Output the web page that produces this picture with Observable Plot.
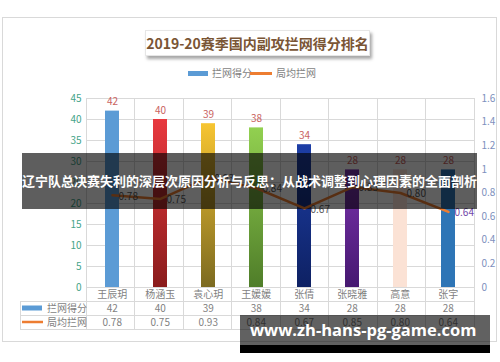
<!DOCTYPE html>
<html>
<head>
<meta charset="utf-8">
<script src="https://cdn.jsdelivr.net/npm/d3@7"></script>
<script src="https://cdn.jsdelivr.net/npm/@observablehq/plot@0.6"></script>
<style>
  html, body { margin: 0; padding: 0; background: #fff; }
  #wrap { position: relative; width: 500px; height: 362px; overflow: hidden; font-family: "Noto Sans CJK SC", sans-serif; }
  #frame { position: absolute; left: 2px; top: 17px; width: 495px; height: 325px; border: 1px solid #d9d9d9; box-sizing: border-box; }
  #chart { position: absolute; left: 0; top: 0; }
  #title { position: absolute; left: 145px; top: 30px; width: 225px; height: 26px; background: #fff; box-shadow: 2px 3px 3px rgba(0,0,0,0.35); border: 1px solid #e6e6e6; box-sizing: border-box; color: #7a5535; font-weight: bold; font-size: 14px; line-height: 24px; text-align: center; white-space: nowrap; }
  .leg { position: absolute; font-size: 10px; color: #7f7f7f; line-height: 12px; white-space: nowrap; }
  #banner { position: absolute; left: 22px; top: 153px; width: 455px; height: 56px; background: rgba(0,0,0,0.63); color: #fff; font-weight: bold; font-size: 13px; line-height: 56px; text-align: center; white-space: nowrap; }
  #wm { position: absolute; left: 240px; top: 315px; width: 250px; height: 30px; background: rgba(0,0,0,0.62); }
  #wm2 { position: absolute; left: 240px; top: 345px; width: 250px; height: 8px; background: #000; }
  #wmt { position: absolute; left: 250px; top: 315px; height: 30px; line-height: 30px; color: #fff; font-family: "Open Sans", sans-serif; font-weight: bold; font-size: 16.5px; white-space: nowrap; }
</style>
</head>
<body>
<div id="wrap">
  <div id="frame"></div>
  <div id="chart"></div>
  <div id="title">2019-20赛季国内副攻拦网得分排名</div>
  <div class="leg" style="left:188px;top:71px;width:20px;height:5px;background:#5b9bd5"></div>
  <div class="leg" style="left:212px;top:67px">拦网得分</div>
  <div class="leg" style="left:250px;top:72px;width:22px;height:2.5px;background:#ed7d31"></div>
  <div class="leg" style="left:276px;top:67px">局均拦网</div>
  <div id="banner">辽宁队总决赛失利的深层次原因分析与反思：从战术调整到心理因素的全面剖析</div>
  <div id="wm"></div>
  <div id="wm2"></div>
  <div id="wmt">www.zh-hans-pg-game.com</div>
</div>
<script>
const names = ["王辰玥", "杨涵玉", "袁心玥", "王媛媛", "张倩", "张晓雅", "高意", "张宇"];
const blocks = [42, 40, 39, 38, 34, 28, 28, 28];
const perSet = [0.78, 0.75, 0.93, 0.84, 0.67, 0.85, 0.80, 0.64];
const barTop = ["#5b9bd5", "#e8393f", "#f7c532", "#92d050", "#1d3ea6", "#7a33ad", "#fbe2d5", "#2e75b6"];
const barBottom = ["#5b9bd5", "#8a1c1c", "#7c6a20", "#4f7d29", "#0e2163", "#461870", "#fbe2d5", "#2e75b6"];
const leftTicks = [0, 5, 10, 15, 20, 25, 30, 35, 40, 45];
const rightTicks = [0, 0.2, 0.4, 0.6, 0.8, 1, 1.2, 1.4, 1.6];
const seriesNames = ["拦网得分", "局均拦网"];
const seriesColors = ["#5b9bd5", "#ed7d31"];

const k = 45 / 1.6; // right axis max (1.6) aligned with left axis max (45)
const rows = names.map((n, i) => ({name: n, blocks: blocks[i], perSet: perSet[i], i}));

function defs() {
  const g = d3.create("svg:defs");
  barTop.forEach((c, i) => {
    const lg = g.append("linearGradient").attr("id", "g" + i).attr("x1", 0).attr("y1", 0).attr("x2", 0).attr("y2", 1);
    lg.append("stop").attr("offset", "0%").attr("stop-color", c);
    lg.append("stop").attr("offset", "100%").attr("stop-color", barBottom[i]);
  });
  return g.node();
}

function gridAndTable(index, scales, values, dims) {
  const g = d3.create("svg:g");
  const x0 = dims.marginLeft, x1 = dims.width - dims.marginRight;
  const bw = (x1 - x0) / names.length;
  const yTop = scales.y(45), y0 = scales.y(0);
  const rowH = 14, left = 20;
  const line = (xa, ya, xb, yb) => g.append("line").attr("x1", xa).attr("y1", ya).attr("x2", xb).attr("y2", yb)
      .attr("stroke", "#d9d9d9").attr("stroke-width", 1).attr("shape-rendering", "crispEdges");
  for (let i = 0; i <= names.length; i++) line(x0 + i * bw, yTop, x0 + i * bw, y0 + 3 * rowH);
  line(x0, y0, x1, y0);
  line(left, y0 + rowH, x1, y0 + rowH);
  line(left, y0 + 2 * rowH, x1, y0 + 2 * rowH);
  line(left, y0 + 3 * rowH, x1, y0 + 3 * rowH);
  line(left, y0 + rowH, left, y0 + 3 * rowH);
  const t = g.append("g").attr("font-size", 10).attr("fill", "#7f7f7f").attr("text-anchor", "middle");
  names.forEach((n, i) => {
    const cx = scales.x(n) + bw / 2;
    t.append("text").attr("x", cx).attr("y", y0 + rowH / 2).attr("dy", "0.35em").text(n);
    t.append("text").attr("x", cx).attr("y", y0 + rowH * 1.5).attr("dy", "0.35em").text(blocks[i]);
    t.append("text").attr("x", cx).attr("y", y0 + rowH * 2.5).attr("dy", "0.35em").text(perSet[i].toFixed(2));
  });
  g.append("rect").attr("x", 22).attr("y", y0 + rowH * 1.5 - 2.5).attr("width", 20).attr("height", 5).attr("fill", seriesColors[0]);
  g.append("rect").attr("x", 22).attr("y", y0 + rowH * 2.5 - 1.25).attr("width", 21).attr("height", 2.5).attr("fill", seriesColors[1]);
  const lt = g.append("g").attr("font-size", 10).attr("fill", "#7f7f7f").attr("text-anchor", "start");
  lt.append("text").attr("x", 47).attr("y", y0 + rowH * 1.5).attr("dy", "0.35em").text(seriesNames[0]);
  lt.append("text").attr("x", 47).attr("y", y0 + rowH * 2.5).attr("dy", "0.35em").text(seriesNames[1]);
  return g.node();
}

const plot = Plot.plot({
  width: 500,
  height: 362,
  marginLeft: 86,
  marginRight: 26,
  marginTop: 98,
  marginBottom: 75,
  style: {fontFamily: "'Noto Sans CJK SC', sans-serif", fontSize: "10px", background: "transparent", overflow: "visible"},
  x: {domain: names, padding: 0, axis: null},
  y: {domain: [0, 45], axis: null},
  color: {type: "identity"},
  marks: [
    defs,
    Plot.ruleY(leftTicks.slice(1), {stroke: "#d9d9d9", strokeOpacity: 1, shapeRendering: "crispEdges"}),
    gridAndTable,
    Plot.barY(rows, {x: "name", y: "blocks", fill: d => "url(#g" + d.i + ")", insetLeft: 17, insetRight: 17}),
    Plot.text(rows, {x: "name", y: "blocks", text: d => String(d.blocks), dy: -9, fill: "#c9625e", fontSize: 10}),
    Plot.line(rows, {x: "name", y: d => d.perSet * k, stroke: "#ed7d31", strokeWidth: 2.5, strokeLinejoin: "round"}),
    Plot.text(rows, {x: "name", y: d => d.perSet * k, text: d => d.perSet.toFixed(2), textAnchor: "start", dx: 6, dy: 1,
      fill: d => d.i === names.length - 1 ? "#7048a8" : "#595959", fontSize: 10}),
    Plot.axisY(leftTicks, {anchor: "left", tickSize: 0, tickPadding: 5, color: "#45a489", fontSize: 10, label: null}),
    Plot.axisY(rightTicks.map(v => v * k), {anchor: "right", tickSize: 0, tickPadding: 7, color: "#7d90bd", fontSize: 10, label: null,
      tickFormat: d => String(Math.round(d / k * 10) / 10)})
  ]
});
document.getElementById("chart").appendChild(plot);
</script>
</body>
</html>
